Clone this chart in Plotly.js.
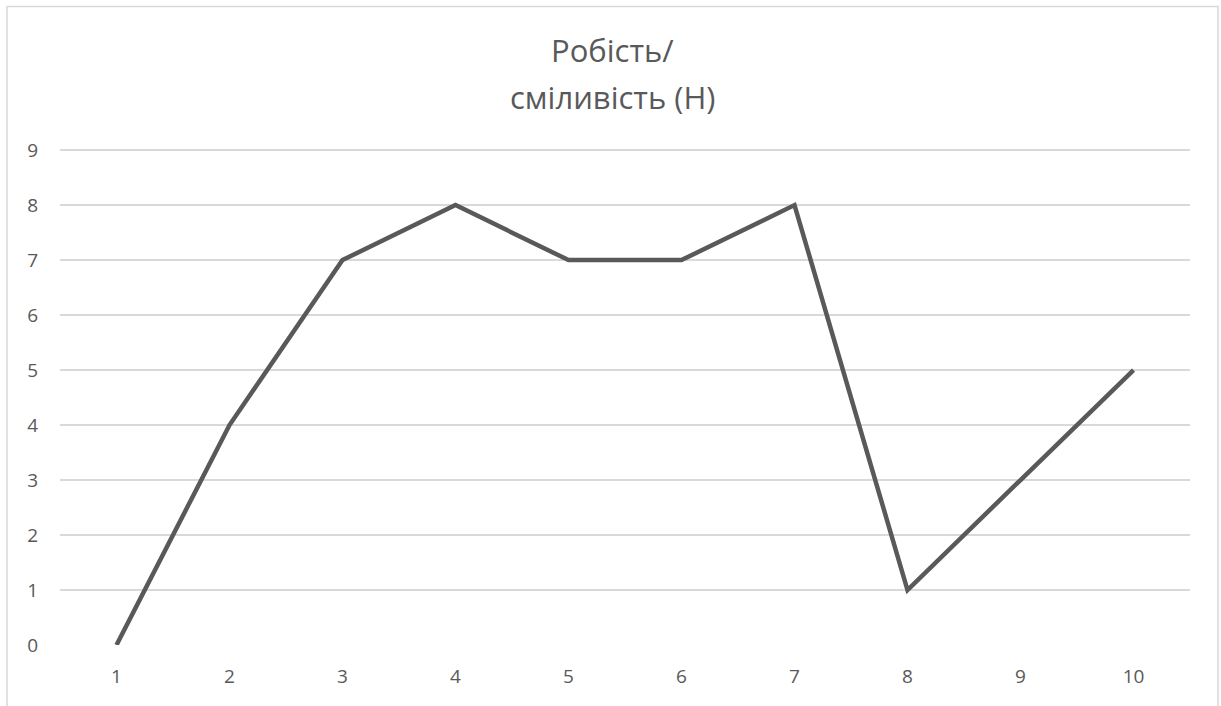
<!DOCTYPE html>
<html>
<head>
<meta charset="utf-8">
<script src="https://cdn.plot.ly/plotly-3.0.1.min.js"></script>
<style>html,body{margin:0;padding:0;background:#fff;}#chart{width:1221px;height:706px;}</style>
</head>
<body>
<div id="chart"></div>
<script>
const categories = [1, 2, 3, 4, 5, 6, 7, 8, 9, 10];
const values = [0, 4, 7, 8, 7, 7, 8, 1, 3, 5];
const titleLines = ["Робість/", "сміливість (Н)"];
const yTicks = [0, 1, 2, 3, 4, 5, 6, 7, 8, 9];

const textColor = "#595959";
const fontFamily = "'Open Sans', 'Noto Sans', sans-serif";

const trace = {
  x: categories,
  y: values,
  type: "scatter",
  mode: "lines",
  line: { color: "#595959", width: 4.5 },
  hoverinfo: "skip"
};

const layout = {
  width: 1221,
  height: 706,
  margin: { l: 60, r: 31, t: 149, b: 61 },
  paper_bgcolor: "#ffffff",
  plot_bgcolor: "#ffffff",
  showlegend: false,
  font: { family: fontFamily, color: textColor, size: 19 },
  xaxis: {
    range: [0.5, 10.5],
    tickvals: categories,
    ticktext: categories.map(String),
    showgrid: false,
    zeroline: false,
    showline: false,
    ticks: "",
    ticklabelstandoff: 18,
    tickfont: { family: fontFamily, color: textColor, size: 19 },
    fixedrange: true
  },
  yaxis: {
    range: [0, 9.02],
    tickvals: yTicks,
    ticktext: yTicks.map(String),
    showgrid: true,
    gridcolor: "#d9d9d9",
    gridwidth: 1.3,
    zeroline: false,
    showline: false,
    ticks: "",
    ticklabelstandoff: 21,
    tickfont: { family: fontFamily, color: textColor, size: 19 },
    fixedrange: true
  },
  annotations: [
    { text: titleLines[0], xref: "paper", yref: "paper", x: 0.4885, y: (645 - 50) / 496, xanchor: "center", yanchor: "middle", showarrow: false, font: { family: fontFamily, size: 31, color: textColor } },
    { text: titleLines[1], xref: "paper", yref: "paper", x: 0.4885, y: (645 - 97) / 496, xanchor: "center", yanchor: "middle", showarrow: false, font: { family: fontFamily, size: 31, color: textColor } }
  ],
  shapes: [
    { type: "rect", xref: "paper", yref: "paper", x0: (7 - 60) / 1130, x1: (1218 - 60) / 1130, y0: -0.3, y1: (645 - 6.5) / 496, line: { color: "#d9d9d9", width: 1.5 }, fillcolor: "rgba(0,0,0,0)", layer: "below" }
  ]
};

Plotly.newPlot("chart", [trace], layout, { displayModeBar: false, staticPlot: true });
</script>
</body>
</html>
